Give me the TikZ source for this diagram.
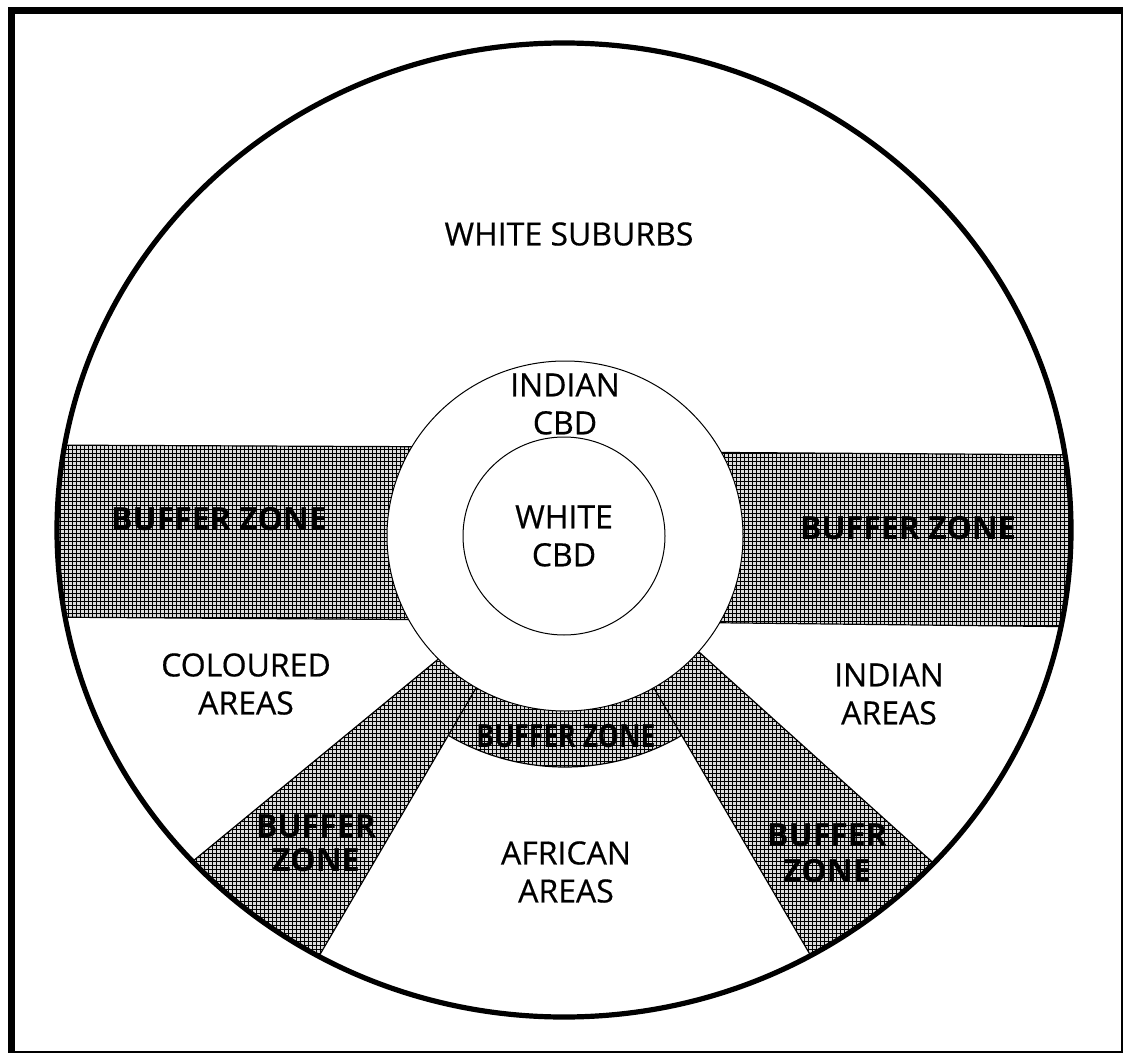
\documentclass[tikz,border=0pt]{standalone}
\usepackage{fontspec}
\setmainfont{Open Sans}[UprightFeatures={FakeBold=0.5}]
\usepackage{graphicx}
\usetikzlibrary{patterns.meta}

\begin{document}
\begin{tikzpicture}[x=0.5pt,y=-0.5pt,
  zonetext/.style={align=center,inner sep=0pt,font=\fontsize{16}{19}\selectfont},
  buftext/.style={zonetext,font=\fontsize{16}{18}\selectfont\bfseries},
  bufzone/.style={fill=black!14,draw=black,line width=0.6pt,
    postaction={pattern={Lines[angle=0,distance=2pt,line width=0.4pt]}},
    postaction={pattern={Lines[angle=90,distance=2pt,line width=0.4pt]}}}]
\useasboundingbox (0,0) rectangle (1123,1053);
\draw[line width=3.5pt] (11,10.5) rectangle (1124.5,1054.5);
% shaded buffer zones, kept inside the town
\begin{scope}
\clip (564,530) ellipse [x radius=507,y radius=487];
\filldraw[bufzone] (30,445) -- (480,447) -- (480,620) -- (30,617) -- cycle;
\filldraw[bufzone] (650,452) -- (1100,455) -- (1100,627) -- (650,622) -- cycle;
\begin{scope}
\clip (565,536) -- (264,1050) -- (866,1050) -- cycle;
\filldraw[bufzone] (565,536) circle [radius=231];
\end{scope}
\filldraw[bufzone] (544,572) -- (85,950) -- (264,1050) -- cycle;
\filldraw[bufzone] (559,526) -- (866,1050) -- (1030,950) -- cycle;
\end{scope}
% CBD rings
\filldraw[fill=white,draw=black,line width=0.5pt] (565,536) ellipse [x radius=178,y radius=175];
\draw[line width=0.5pt] (564,536) ellipse [x radius=101,y radius=99];
\draw[line width=2.6pt] (564,530) ellipse [x radius=507,y radius=487];
% labels
\node[zonetext] (suburbs) at (569,234) {WHITE SUBURBS};
\node[zonetext] (indcbd) at (565,404) {INDIAN\\CBD};
\node[zonetext] (whcbd) at (564,536) {WHITE\\CBD};
\node[buftext] (bufleft) at (219,519) {BUFFER ZONE};
\node[buftext] (bufright) at (908,528) {BUFFER ZONE};
\node[zonetext] (coloured) at (246,684) {COLOURED\\AREAS};
\node[zonetext] (indareas) at (889,694) {INDIAN\\AREAS};
\node[buftext] (bufring) at (566,736) {\scalebox{0.83}[1]{BUFFER ZONE}};
\node[buftext,font=\fontsize{16}{17}\selectfont\bfseries] (bufsw) at (316,843) {BUFFER\\ZONE};
\node[zonetext] (african) at (566,872) {AFRICAN\\AREAS};
\node[buftext] (bufse) at (827,853) {BUFFER\\ZONE};
\end{tikzpicture}
\end{document}
